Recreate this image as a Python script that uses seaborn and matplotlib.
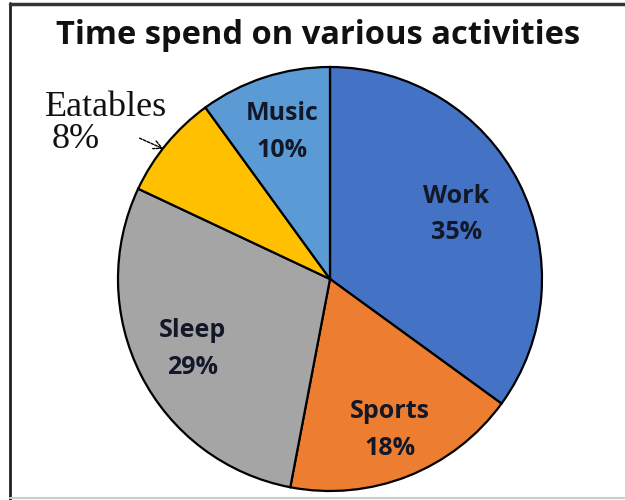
import numpy as np
import matplotlib
matplotlib.use("Agg")
import matplotlib.pyplot as plt
import seaborn as sns
from matplotlib.lines import Line2D

sns.set_theme(style="white")
plt.rcParams['font.family'] = ['Open Sans', 'DejaVu Sans']

categories = ["Work", "Sports", "Sleep", "Eatables", "Music"]
values = [35, 18, 29, 8, 10]
colors = ["#4472C4", "#ED7D31", "#A5A5A5", "#FFC000", "#5B9BD5"]
label_radius = [0.67, 0.765, 0.73, None, 0.73]
title = "Time spend on various activities"

W, H = 625, 500
fig = plt.figure(figsize=(W / 100, H / 100), dpi=100)
cx, cy, r = 330, 279, 212
ax = fig.add_axes([(cx - r) / W, (H - cy - r) / H, 2 * r / W, 2 * r / H])
wedges, _ = ax.pie(values, colors=colors, startangle=90, counterclock=False,
                   wedgeprops=dict(edgecolor="black", linewidth=1.6))
ax.set_xlim(-1, 1)
ax.set_ylim(-1, 1)
ax.axis("off")

for w, cat, v, lr in zip(wedges, categories, values, label_radius):
    mid = np.deg2rad((w.theta1 + w.theta2) / 2)
    if lr is not None:
        ax.text(lr * np.cos(mid), lr * np.sin(mid), f"{cat}\n{v}%",
                ha="center", va="center", fontsize=18, fontweight="bold",
                color="#121828", linespacing=1.62)
    else:
        serif = ["Liberation Serif", "DejaVu Serif"]
        fig.text(45 / W, 1 - 107 / H, cat, ha="left", va="center",
                 fontsize=26, family=serif, color="#111111")
        fig.text(52 / W, 1 - 140 / H, f"{v}%", ha="left", va="center",
                 fontsize=26, family=serif, color="#111111")
        fig.add_artist(plt.matplotlib.patches.FancyArrowPatch(
            (137 / W, 1 - 137 / H), (166 / W, 1 - 150 / H),
            transform=fig.transFigure, arrowstyle="->,head_length=6,head_width=3",
            color="black", lw=1.0, linestyle=(0, (2, 1))))

fig.text(318 / W, 1 - 36 / H, title, ha="center", va="center",
         fontsize=23.5, fontweight="bold", color="#111111")

# frame
fig.add_artist(Line2D([10 / W, 10 / W], [0, 1 - 3 / H], transform=fig.transFigure,
                      color="#222222", lw=2))
fig.add_artist(Line2D([10 / W, 1], [1 - 4 / H, 1 - 4 / H], transform=fig.transFigure,
                      color="#333333", lw=2.5))
fig.add_artist(Line2D([10 / W, 1], [2 / H, 2 / H], transform=fig.transFigure,
                      color="#cccccc", lw=1.5))

fig.savefig("out.png", dpi=100)
